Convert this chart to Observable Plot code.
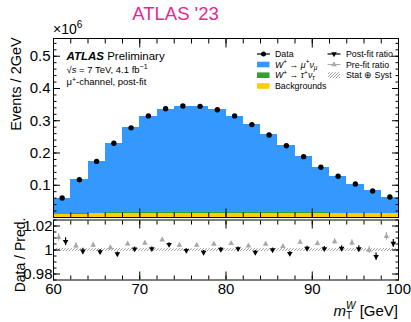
<!DOCTYPE html>
<html><head><meta charset="utf-8">
<script src="https://cdn.jsdelivr.net/npm/d3@7"></script>
<script src="https://cdn.jsdelivr.net/npm/@observablehq/plot@0.6"></script>
<style>
html,body{margin:0;padding:0;background:#fff;}
#chart{position:relative;width:411px;height:322px;overflow:hidden;font-family:"Liberation Sans",Arial,sans-serif;}
</style></head><body><div id="chart"></div>
<script>
// ---------- data (events in units of 10^6) ----------
const binEdges = [60,62,64,66,68,70,72,74,76,78,80,82,84,86,88,90,92,94,96,98,100];
const dataEvents = [0.0606,0.1170,0.1740,0.2300,0.2780,0.3150,0.3375,0.3455,0.3446,0.3340,0.3150,0.2880,0.2560,0.2225,0.1886,0.1560,0.1280,0.1037,0.0820,0.0637];
const wMuNu      = [0.0509,0.1057,0.1613,0.2165,0.2624,0.2988,0.3198,0.3293,0.3290,0.3177,0.2988,0.2730,0.2407,0.2083,0.1739,0.1416,0.1139,0.0900,0.0692,0.0503];
const wTauNu     = [0.0008,0.0014,0.0020,0.0025,0.0029,0.0031,0.0032,0.0032,0.0031,0.0029,0.0027,0.0024,0.0021,0.0018,0.0015,0.0012,0.0010,0.0008,0.0006,0.0005];
const backgrounds= [0.0085,0.0100,0.0110,0.0118,0.0124,0.0128,0.0130,0.0132,0.0132,0.0132,0.0132,0.0132,0.0132,0.0131,0.0130,0.0130,0.0129,0.0128,0.0127,0.0126];
const postFitRatio = [1.0070,0.9990,0.9985,0.9967,1.0008,1.0010,1.0045,0.9995,0.9980,1.0005,1.0010,0.9980,1.0000,0.9970,1.0013,1.0010,1.0013,1.0010,0.9945,1.0055];
const preFitRatio  = [1.0105,1.0035,1.0040,1.0020,1.0052,1.0058,1.0085,1.0040,1.0040,1.0050,1.0055,1.0035,1.0050,1.0030,1.0065,1.0055,1.0070,1.0060,1.0000,1.0114];
const dataRelErr   = [0.0032,0.0024,0.0020,0.0017,0.0016,0.0015,0.0015,0.0015,0.0015,0.0015,0.0015,0.0016,0.0016,0.0017,0.0018,0.0020,0.0022,0.0025,0.0030,0.0033];
const statSystErr  = [0.0012,0.0011,0.0011,0.0011,0.0011,0.0011,0.0011,0.0011,0.0011,0.0011,0.0011,0.0011,0.0011,0.0011,0.0011,0.0011,0.0011,0.0011,0.0011,0.0012];
const processes = ["Backgrounds","W+→τ+ντ","W+→μ+νμ"];
const processColors = ["#ffcc00","#33a033","#3399ff"];
const xTickLabels = [60,70,80,90,100];
const xMinorTicks = binEdges;
const yTickLabels = [0.1,0.2,0.3,0.4,0.5];
const yMajorTicks = [0,0.1,0.2,0.3,0.4,0.5];
const yMinorTicks = d3.range(0,0.555,0.02);
const ratioTickLabels = [0.98,1,1.02];
const ratioMinorTicks = [0.975,0.98,0.985,0.99,0.995,1,1.005,1.01,1.015,1.02,1.025];

// ---------- tables ----------
const bins = dataEvents.map((d,i)=>({
  lo: binEdges[i], hi: binEdges[i+1], c: (binEdges[i]+binEdges[i+1])/2,
  data: d, mu: wMuNu[i], tau: wTauNu[i], bkg: backgrounds[i],
  post: postFitRatio[i], pre: preFitRatio[i], err: dataRelErr[i], band: statSystErr[i]
}));
const stackRows = bins.flatMap(b => [
  {lo:b.lo, hi:b.hi, y1:0, y2:b.bkg, proc:processes[0]},
  {lo:b.lo, hi:b.hi, y1:b.bkg, y2:b.bkg+b.tau, proc:processes[1]},
  {lo:b.lo, hi:b.hi, y1:b.bkg+b.tau, y2:b.bkg+b.tau+b.mu, proc:processes[2]}
]);

const FONT = "'Liberation Sans', Arial, Helvetica, sans-serif";
const triangleDown = {draw(ctx, size){
  const y = -Math.sqrt(size/(Math.sqrt(3)*3));
  ctx.moveTo(0, -y*2); ctx.lineTo(-Math.sqrt(3)*y, y); ctx.lineTo(Math.sqrt(3)*y, y); ctx.closePath();
}};
const NS = "http://www.w3.org/2000/svg";
function hatchDefs(id){
  return () => {
    const defs = document.createElementNS(NS,"defs");
    defs.innerHTML = `<pattern id="${id}" patternUnits="userSpaceOnUse" width="3" height="3"><path d="M-1,1 L1,-1 M0,3 L3,0 M2,4 L4,2" stroke="#808080" stroke-width="0.8"/></pattern>`;
    return defs;
  };
}
const tick = (axis, ticks, anchor, size) => axis(ticks, {anchor, tickSize:-size, fill:"none", label:null, strokeWidth:1});
const MARK_R = 2.1;

// ---------- main panel ----------
const main = Plot.plot({
  width: 411, height: 218,
  marginTop: 38, marginBottom: 1, marginLeft: 53, marginRight: 13,
  x: {domain: [60,100]},
  y: {domain: [0,0.555]},
  color: {domain: processes, range: processColors},
  style: {fontFamily: FONT, color: "black", background: "transparent", overflow: "visible"},
  marks: [
    Plot.rect(stackRows, {x1:"lo", x2:"hi", y1:"y1", y2:"y2", fill:"proc", shapeRendering:"crispEdges"}),
    Plot.ruleX(bins, {x:"c", y1:d=>d.data*(1-d.err), y2:d=>d.data*(1+d.err), stroke:"black"}),
    Plot.dot(bins, {x:"c", y:"data", r:2.7, fill:"black"}),
    tick(Plot.axisX, xMinorTicks, "bottom", 4.5),
    tick(Plot.axisX, xTickLabels, "bottom", 8.5),
    tick(Plot.axisX, xMinorTicks, "top", 4.5),
    tick(Plot.axisX, xTickLabels, "top", 8.5),
    tick(Plot.axisY, yMinorTicks, "left", 3.5),
    tick(Plot.axisY, yMajorTicks, "left", 7),
    tick(Plot.axisY, yMinorTicks, "right", 3.5),
    tick(Plot.axisY, yMajorTicks, "right", 7),
    Plot.axisY(yTickLabels, {anchor:"left", tickSize:0, tickPadding:3, tickFormat:d=>d.toFixed(1), fontSize:15, label:null}),
    Plot.frame({stroke:"black", strokeWidth:1})
  ]
});
main.style.position = "absolute"; main.style.left = "0px"; main.style.top = "0px";

// ---------- ratio panel ----------
const ratio = Plot.plot({
  width: 411, height: 104,
  marginTop: 1.5, marginBottom: 42.5, marginLeft: 53, marginRight: 13,
  x: {domain: [60,100]},
  y: {domain: [0.975,1.025]},
  style: {fontFamily: FONT, color: "black", background: "transparent", overflow: "visible"},
  marks: [
    hatchDefs("hatchBand"),
    Plot.rect(bins, {x1:"lo", x2:"hi", y1:d=>1-d.band, y2:d=>1+d.band, fill:"url(#hatchBand)"}),
    Plot.ruleX(bins, {x:d=>d.c-0.4, y1:d=>d.pre-d.err, y2:d=>d.pre+d.err, stroke:"#a8a8a8", strokeWidth:1}),
    Plot.dot(bins, {x:d=>d.c-0.4, y:"pre", symbol:"triangle", r:MARK_R, fill:"#a8a8a8", stroke:"none"}),
    Plot.ruleX(bins, {x:d=>d.c+0.4, y1:d=>d.post-d.err, y2:d=>d.post+d.err, stroke:"black", strokeWidth:1.2}),
    Plot.dot(bins, {x:d=>d.c+0.4, y:"post", symbol:triangleDown, r:MARK_R, fill:"black", stroke:"none"}),
    tick(Plot.axisX, xMinorTicks, "bottom", 4),
    tick(Plot.axisX, xTickLabels, "bottom", 8),
    tick(Plot.axisX, xMinorTicks, "top", 4),
    tick(Plot.axisX, xTickLabels, "top", 8),
    tick(Plot.axisY, ratioMinorTicks, "left", 3.5),
    tick(Plot.axisY, ratioTickLabels, "left", 7),
    tick(Plot.axisY, ratioMinorTicks, "right", 3.5),
    tick(Plot.axisY, ratioTickLabels, "right", 7),
    Plot.axisY(ratioTickLabels, {anchor:"left", tickSize:0, tickPadding:1, tickFormat:d=>d===1?"1":d.toFixed(2), fontSize:15, label:null}),
    Plot.axisX(xTickLabels, {anchor:"bottom", tickSize:0, tickPadding:3, fontSize:15, label:null}),
    Plot.frame({stroke:"black", strokeWidth:1})
  ]
});
ratio.style.position = "absolute"; ratio.style.left = "0px"; ratio.style.top = "218px";

// ---------- overlay: titles, labels, legend ----------
const ov = d3.create("svg").attr("width",411).attr("height",322)
  .attr("style",`position:absolute;left:0;top:0;font-family:${FONT};overflow:visible`);
ov.append(hatchDefs("hatchLeg"));
const T = (x,y,size,html,extra={}) => {
  const t = ov.append("text").attr("x",x).attr("y",y).attr("font-size",size).attr("fill","black").html(html);
  for (const k in extra) t.attr(k, extra[k]);
  return t;
};
T(175.5, 20, 18.5, "ATLAS '23", {"text-anchor":"middle", fill:"#e8278f"});
T(53, 34, 14, `×10<tspan dy="-6" font-size="10">6</tspan>`);
T(0, 0, 14.5, "Events / 2GeV", {"text-anchor":"middle", transform:"translate(21,84) rotate(-90)"});
T(0, 0, 14, "Data / Pred.", {"text-anchor":"middle", transform:"translate(25,255) rotate(-90)"});
T(398, 316, 15, `<tspan font-style="italic">m</tspan><tspan font-size="10" dy="2.5">T</tspan><tspan font-size="10" font-style="italic" dx="-6" dy="-10">W</tspan><tspan dy="7.5"> [GeV]</tspan>`, {"text-anchor":"end"});
T(66.5, 59.5, 11.5, `<tspan font-weight="bold" font-style="italic">ATLAS</tspan> Preliminary`);
T(66.5, 72.5, 9.5, `√<tspan font-style="italic">s</tspan> = 7 TeV, 4.1 fb<tspan dy="-3.5" font-size="7">−1</tspan>`);
T(66.5, 85, 9.5, `μ<tspan dy="-3.5" font-size="7">+</tspan><tspan dy="3.5">-channel, post-fit</tspan>`);

// legend
const L = ov.append("g");
const legFont = 8.8;
const rowsY = [54, 64.5, 75.2, 86];
L.append("line").attr("x1",257).attr("x2",270).attr("y1",rowsY[0]).attr("y2",rowsY[0]).attr("stroke","black").attr("stroke-width",1.2);
L.append("circle").attr("cx",263.5).attr("cy",rowsY[0]).attr("r",2.5).attr("fill","black");
processes.slice().reverse().forEach((p,i)=>{
  L.append("rect").attr("x",257).attr("y",rowsY[i+1]-2.8).attr("width",12.5).attr("height",5.6).attr("fill",processColors[processColors.length-1-i]);
});
const legText = [
  "Data",
  `<tspan font-style="italic">W</tspan><tspan dy="-3.5" font-size="6.5">+</tspan><tspan dy="3.5"> → </tspan><tspan font-style="italic">μ</tspan><tspan dy="-3.5" font-size="6.5">+</tspan><tspan dy="3.5" font-style="italic">ν</tspan><tspan dy="2" font-size="6.5" font-style="italic">μ</tspan>`,
  `<tspan font-style="italic">W</tspan><tspan dy="-3.5" font-size="6.5">+</tspan><tspan dy="3.5"> → </tspan><tspan font-style="italic">τ</tspan><tspan dy="-3.5" font-size="6.5">+</tspan><tspan dy="3.5" font-style="italic">ν</tspan><tspan dy="2" font-size="6.5" font-style="italic">τ</tspan>`,
  "Backgrounds"
];
legText.forEach((h,i)=>T(275, rowsY[i]+3.2, legFont, h));
// right column
const sym = (type, x, y, fill) => L.append("path").attr("d", d3.symbol(type, Math.PI*MARK_R*MARK_R)()).attr("transform",`translate(${x},${y})`).attr("fill",fill);
L.append("line").attr("x1",327.5).attr("x2",340.5).attr("y1",rowsY[0]).attr("y2",rowsY[0]).attr("stroke","black").attr("stroke-width",1.2);
sym(triangleDown, 334, rowsY[0], "black");
L.append("line").attr("x1",327.5).attr("x2",340.5).attr("y1",rowsY[1]).attr("y2",rowsY[1]).attr("stroke","#a8a8a8").attr("stroke-width",1);
sym(d3.symbolTriangle, 334, rowsY[1], "#a8a8a8");
L.append("rect").attr("x",328).attr("y",rowsY[2]-3).attr("width",12).attr("height",6).attr("fill","url(#hatchLeg)");
T(346, rowsY[0]+3.2, legFont, "Post-fit ratio");
T(346, rowsY[1]+3.2, legFont, "Pre-fit ratio");
T(346, rowsY[2]+3.2, legFont, "Stat ⊕ Syst");

const chart = document.getElementById("chart");
chart.appendChild(main);
chart.appendChild(ratio);
chart.appendChild(ov.node());
</script></body></html>
